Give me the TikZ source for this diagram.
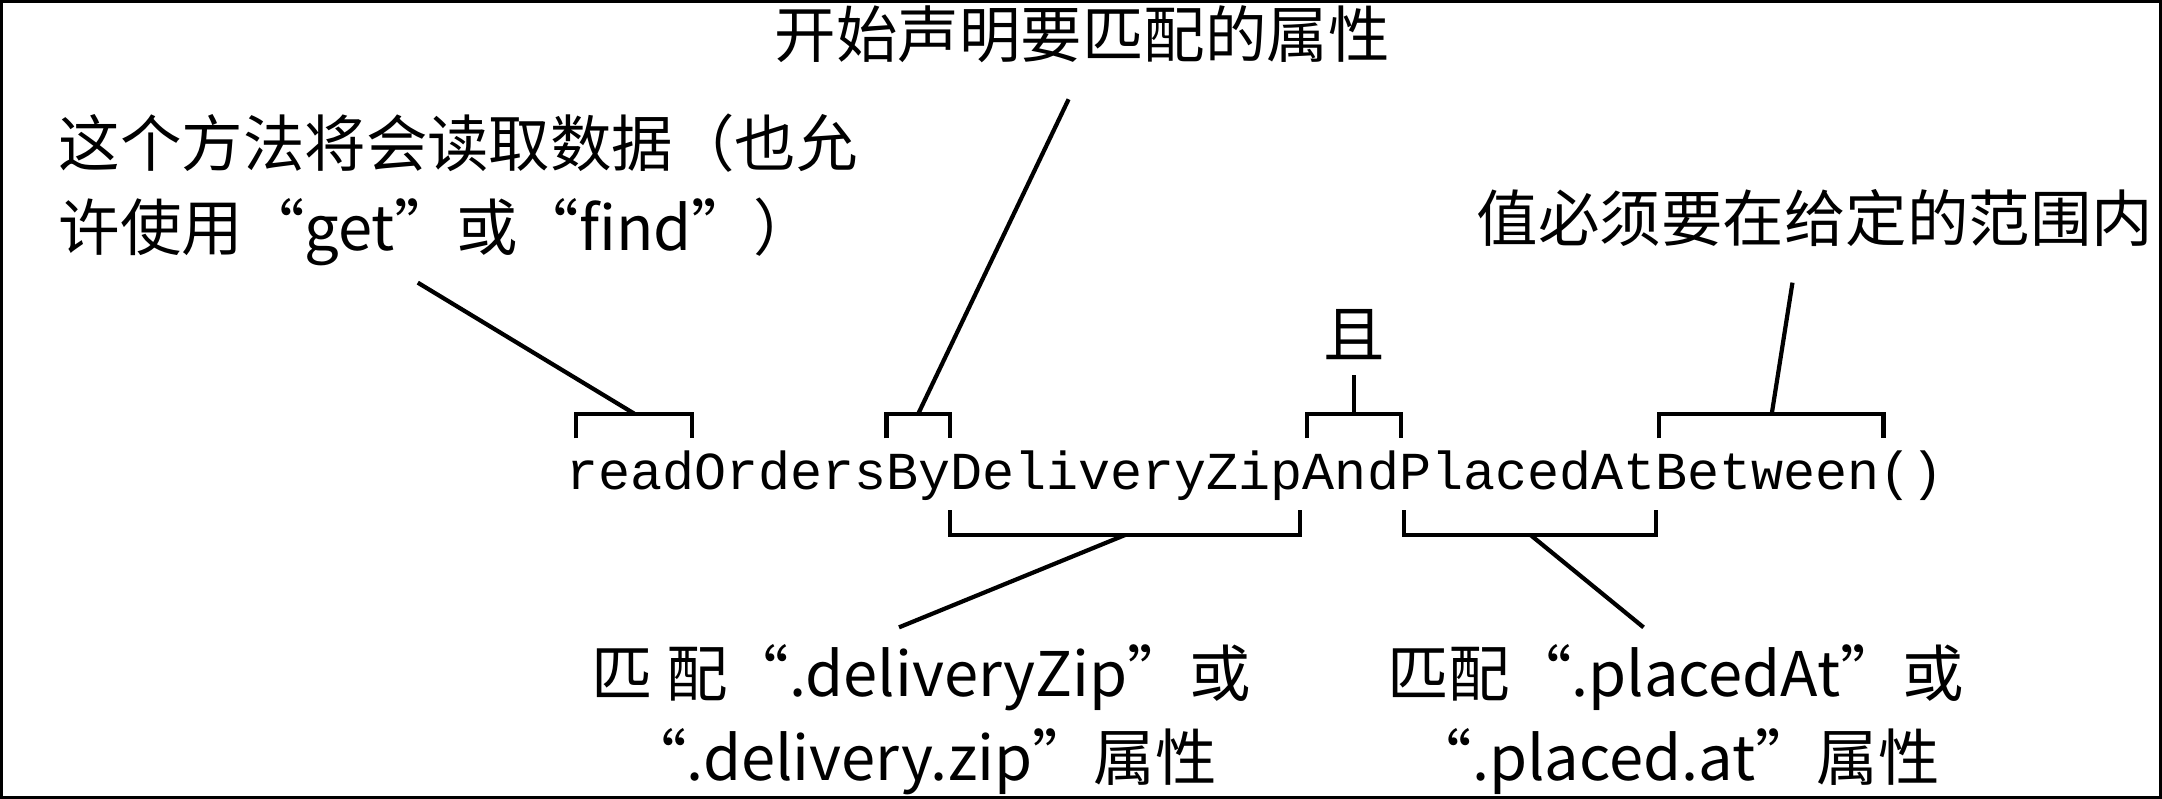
\documentclass[tikz,border=0pt]{standalone}
\usepackage{fontspec}
\newfontfamily\cjk{Noto Sans CJK SC}
\setmonofont{Liberation Mono}
\begin{document}
\begin{tikzpicture}[x=0.01379cm,y=-0.01379cm]

\tikzset{note/.style={font=\cjk\fontsize{17.5}{24}\selectfont},
  code/.style={font=\ttfamily\fontsize{15.2}{18}\selectfont,inner sep=0pt},
  brace line/.style={line width=1.2pt}}

\useasboundingbox (0,0) rectangle (1568,579);
\draw[line width=1.5pt] (0,0) rectangle (1568,579);

%% Method name
\node[code,anchor=base west] (name) at (410,355) {readOrdersByDeliveryZipAndPlacedAtBetween()};

%% Brackets above
\draw[brace line] (418,318) -- (418,300) -- (502,300) -- (502,318) coordinate[pos=0] (rd);
\coordinate (read) at (460,300);
\draw[brace line] (643,318) -- (643,300) -- (689,300) -- (689,318);
\coordinate (by) at (666,300);
\draw[brace line] (948,318) -- (948,300) -- (1016,300) -- (1016,318);
\coordinate (and) at (982,300);
\draw[brace line] (1203,318) -- (1203,300) -- (1366,300) -- (1366,318);
\coordinate (between) at (1285,300);

%% Brackets below
\draw[brace line] (689,370) -- (689,388) -- (943,388) -- (943,370);
\coordinate (zip) at (816,388);
\draw[brace line] (1018,370) -- (1018,388) -- (1201,388) -- (1201,370);
\coordinate (placed) at (1110,388);

%% Notes
\node[note,anchor=north west,align=left,inner sep=0pt] (find) at (42,82) {这个方法将会读取数据（也允\\许使用“get”或“find”）};
\node[note] (start) at (785,25) {开始声明要匹配的属性};
\node[note] (qie) at (982,243) {且};
\node[note,anchor=east,inner xsep=0pt] (range) at (1562,158) {值必须要在给定的范围内};
\node[note,align=center] (zipnote) at (668,522) {匹\ 配“.deliveryZip”或\\“.delivery.zip”属性};
\node[note,align=center] (placednote) at (1215,522) {匹配“.placedAt”或\\“.placed.at”属性};

%% Leaders
\coordinate (findend) at (303,205);
\coordinate (startend) at (775,72);
\coordinate (qieend) at (982,272);
\coordinate (rangeend) at (1300,205);
\coordinate (zipend) at (652,455);
\coordinate (placedend) at (1192,455);
\draw[brace line] (read) -- (findend);
\draw[brace line] (by) -- (startend);
\draw[brace line] (and) -- (qieend);
\draw[brace line] (between) -- (rangeend);
\draw[brace line] (zip) -- (zipend);
\draw[brace line] (placed) -- (placedend);

\end{tikzpicture}
\end{document}
